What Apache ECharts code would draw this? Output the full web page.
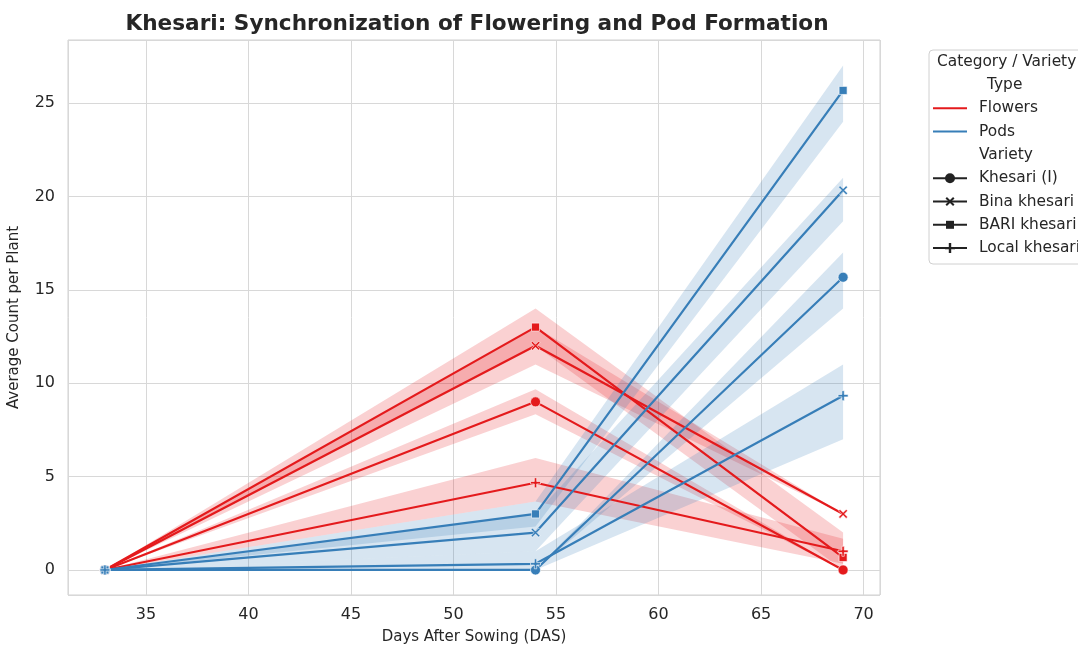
<!DOCTYPE html>
<html>
<head>
<meta charset="utf-8">
<title>Khesari flowering and pods</title>
<script src="https://cdn.jsdelivr.net/npm/echarts@6/dist/echarts.min.js"></script>
<style>
	html, body { margin: 0; padding: 0; background: #fff; }
	#chart { width: 1078px; height: 647px; }
</style>
</head>
<body>
<div id="chart"></div>
<script>
const das = [33, 54, 69];
const varieties = ['Khesari (I)', 'Bina khesari', 'BARI khesari', 'Local khesari'];

// mean counts per plant, one array per variety
const flowersMean = {
	'Khesari (I)': [0, 9, 0],
	'Bina khesari': [0, 12, 3],
	'BARI khesari': [0, 13, 0.67],
	'Local khesari': [0, 4.67, 1]
};
const flowersLow = {
	'Khesari (I)': [0, 8.33, 0],
	'Bina khesari': [0, 11, 3],
	'BARI khesari': [0, 12, 0],
	'Local khesari': [0, 3.67, 0.33]
};
const flowersHigh = {
	'Khesari (I)': [0, 9.67, 0],
	'Bina khesari': [0, 13, 3],
	'BARI khesari': [0, 14, 2],
	'Local khesari': [0, 6, 1.67]
};

const podsMean = {
	'Khesari (I)': [0, 0, 15.67],
	'Bina khesari': [0, 2, 20.33],
	'BARI khesari': [0, 3, 25.67],
	'Local khesari': [0, 0.33, 9.33]
};
const podsLow = {
	'Khesari (I)': [0, 0, 14],
	'Bina khesari': [0, 1, 18.67],
	'BARI khesari': [0, 2.33, 24],
	'Local khesari': [0, 0, 7]
};
const podsHigh = {
	'Khesari (I)': [0, 0, 17],
	'Bina khesari': [0, 3, 21],
	'BARI khesari': [0, 3.67, 27],
	'Local khesari': [0, 1, 11]
};

const RED = '#e41a1c';
const BLUE = '#377eb8';
const FONT = 'DejaVu Sans';
const TEXT = '#262626';

// marker outlines on a 10x10 box
const X_POINTS = [[0, 1.6], [1.6, 0], [5, 3.4], [8.4, 0], [10, 1.6], [6.6, 5], [10, 8.4], [8.4, 10], [5, 6.6], [1.6, 10], [0, 8.4], [3.4, 5]];
const PLUS_POINTS = [[3.8, 0], [6.2, 0], [6.2, 3.8], [10, 3.8], [10, 6.2], [6.2, 6.2], [6.2, 10], [3.8, 10], [3.8, 6.2], [0, 6.2], [0, 3.8], [3.8, 3.8]];

function toPath(points) {
	return 'path://M' + points.map(p => p[0] + ',' + p[1]).join('L') + 'Z';
}

const markers = {
	'Khesari (I)': { symbol: 'circle', size: 10 },
	'Bina khesari': { symbol: toPath(X_POINTS), points: X_POINTS, size: 9 },
	'BARI khesari': { symbol: 'rect', size: 8 },
	'Local khesari': { symbol: toPath(PLUS_POINTS), points: PLUS_POINTS, size: 10 }
};

// confidence band as one polygon: item holds x, low, high for every day
function bandSeries(name, low, high, color) {
	const item = [];
	das.forEach((d, i) => { item.push(d, low[i], high[i]); });
	return {
		type: 'custom',
		name: name,
		silent: true,
		z: 1,
		encode: { x: [0, 3, 6], y: [1, 2, 4, 5, 7, 8] },
		data: [item],
		renderItem: (params, api) => {
			const lowerPts = [];
			const upperPts = [];
			for (let i = 0; i < das.length; i++) {
				const x = api.value(i * 3);
				lowerPts.push(api.coord([x, api.value(i * 3 + 1)]));
				upperPts.unshift(api.coord([x, api.value(i * 3 + 2)]));
			}
			return {
				type: 'polygon',
				shape: { points: lowerPts.concat(upperPts) },
				style: { fill: color, opacity: 0.2 }
			};
		}
	};
}

function lineSeries(name, values, color, variety) {
	return {
		type: 'line',
		name: name,
		data: das.map((d, i) => [d, values[i]]),
		symbol: markers[variety].symbol,
		symbolSize: markers[variety].size,
		showAllSymbol: true,
		lineStyle: { color: color, width: 2.2 },
		itemStyle: { color: color, borderColor: '#fff', borderWidth: 0.6 },
		z: 3
	};
}

const series = [];
varieties.forEach(v => {
	series.push(bandSeries('F ' + v, flowersLow[v], flowersHigh[v], RED));
});
varieties.forEach(v => {
	series.push(bandSeries('P ' + v, podsLow[v], podsHigh[v], BLUE));
});
varieties.forEach(v => {
	series.push(lineSeries('Flowers ' + v, flowersMean[v], RED, v));
});
varieties.forEach(v => {
	series.push(lineSeries('Pods ' + v, podsMean[v], BLUE, v));
});

// legend drawn by hand, seaborn style with section headers
const legendRows = [
	{ text: 'Type', header: true, dx: 58 },
	{ text: 'Flowers', color: RED },
	{ text: 'Pods', color: BLUE },
	{ text: 'Variety', header: true, dx: 50 },
	{ text: 'Khesari (I)', color: '#222', marker: 'Khesari (I)' },
	{ text: 'Bina khesari', color: '#222', marker: 'Bina khesari' },
	{ text: 'BARI khesari', color: '#222', marker: 'BARI khesari' },
	{ text: 'Local khesari', color: '#222', marker: 'Local khesari' }
];

function legendText(text, x, y) {
	return {
		type: 'text',
		style: { text: text, x: x, y: y, fill: TEXT, font: '15.4px "' + FONT + '"', verticalAlign: 'middle' }
	};
}

function legendGraphic() {
	const left = 929;
	const children = [{
		type: 'rect',
		shape: { x: left, y: 50, width: 170, height: 214, r: 4 },
		style: { fill: 'rgba(255,255,255,0.8)', stroke: '#d0d0d0', lineWidth: 1 }
	}, legendText('Category / Variety', left + 8, 62)];

	legendRows.forEach((row, i) => {
		const y = 85 + i * 23.3;
		if (row.header) {
			children.push(legendText(row.text, left + row.dx, y));
			return;
		}
		children.push({
			type: 'line',
			shape: { x1: left + 4, y1: y, x2: left + 38, y2: y },
			style: { stroke: row.color, lineWidth: 2 }
		});
		if (row.marker) {
			const m = markers[row.marker];
			const s = m.size;
			const cx = left + 21;
			if (m.symbol === 'circle') {
				children.push({ type: 'circle', shape: { cx: cx, cy: y, r: s / 2 }, style: { fill: row.color } });
			} else if (m.symbol === 'rect') {
				children.push({ type: 'rect', shape: { x: cx - s / 2, y: y - s / 2, width: s, height: s }, style: { fill: row.color } });
			} else {
				children.push({
					type: 'polygon',
					shape: { points: m.points.map(p => [cx - s / 2 + p[0] * s / 10, y - s / 2 + p[1] * s / 10]) },
					style: { fill: row.color }
				});
			}
		}
		children.push(legendText(row.text, left + 50, y));
	});
	return { type: 'group', children: children };
}

const chart = echarts.init(document.getElementById('chart'), null, { renderer: 'canvas' });
chart.setOption({
	animation: false,
	backgroundColor: '#fff',
	textStyle: { fontFamily: FONT },
	title: {
		text: 'Khesari: Synchronization of Flowering and Pod Formation',
		left: 472,
		top: 8,
		textAlign: 'center',
		textStyle: { fontFamily: FONT, fontSize: 21.6, fontWeight: 'bold', color: TEXT }
	},
	grid: {
		left: 68, right: 198, top: 40, bottom: 52,
		outerBoundsMode: 'none',
		containLabel: false,
		show: true, borderColor: '#d0d0d0', borderWidth: 1
	},
	xAxis: {
		type: 'value',
		min: 31.2,
		max: 70.8,
		splitNumber: 8,
		name: 'Days After Sowing (DAS)',
		nameLocation: 'middle',
		nameGap: 35,
		nameTextStyle: { fontFamily: FONT, fontSize: 15, color: TEXT },
		axisLine: { show: false },
		axisTick: { show: false },
		axisLabel: { showMinLabel: false, showMaxLabel: false, fontFamily: FONT, fontSize: 16, color: TEXT, margin: 12 },
		splitLine: { lineStyle: { color: '#d8d8d8', width: 1 } }
	},
	yAxis: {
		type: 'value',
		min: -1.34,
		max: 28.37,
		splitNumber: 6,
		name: 'Average Count per Plant',
		nameLocation: 'middle',
		nameGap: 46,
		nameTextStyle: { fontFamily: FONT, fontSize: 15, color: TEXT },
		axisLine: { show: false },
		axisTick: { show: false },
		axisLabel: { showMinLabel: false, showMaxLabel: false, fontFamily: FONT, fontSize: 16, color: TEXT, margin: 13 },
		splitLine: { lineStyle: { color: '#d8d8d8', width: 1 } }
	},
	series: series,
	graphic: [legendGraphic()]
});
</script>
</body>
</html>
